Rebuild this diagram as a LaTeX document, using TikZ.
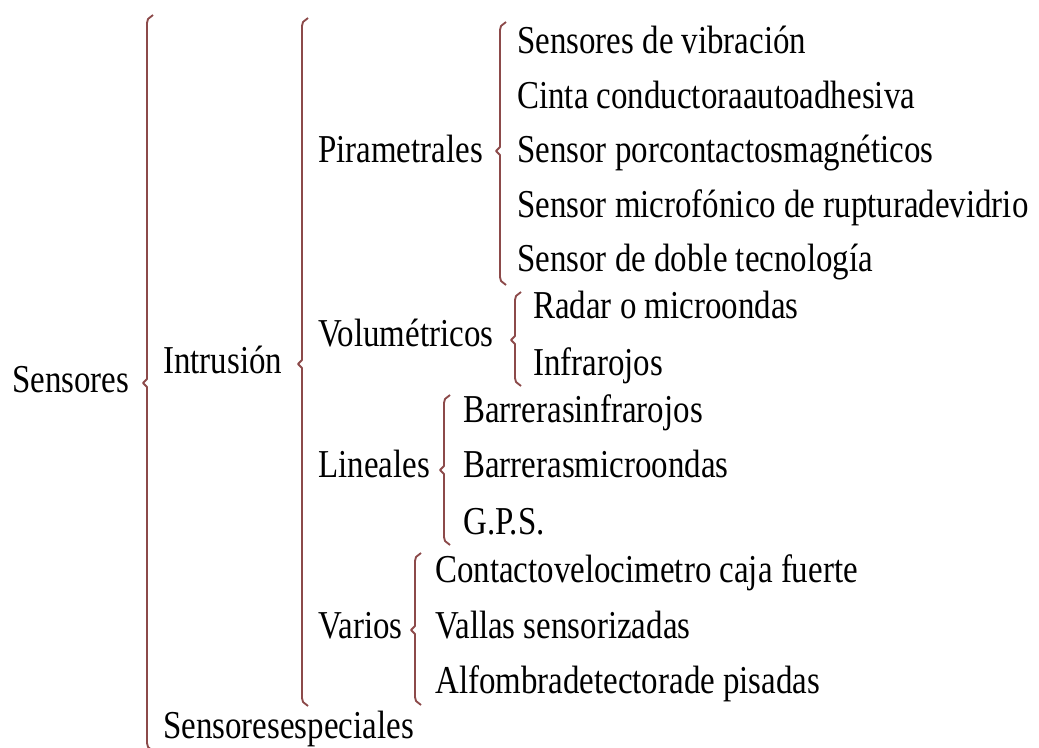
\documentclass[tikz,border=0pt]{standalone}
\usepackage{fontspec}
\setmainfont{Liberation Serif}
\usepackage{tikz}
\definecolor{llavecolor}{RGB}{140,74,74}
\tikzset{
  texto/.style={anchor=base west, inner sep=0pt, yscale=1.2, font=\fontsize{24.7pt}{28pt}\selectfont},
  llave/.style={draw=llavecolor, line width=1.4pt, line join=round}
}
% llave: x, arriba, punta, abajo
\newcommand{\llave}[4]{%
  \draw[llave] (#1+6,#2) -- (#1+1,#2+4) -- (#1,#2+8) -- (#1,#3-4) -- (#1-4,#3)
    -- (#1,#3+4) -- (#1,#4-8) -- (#1+1,#4-4) -- (#1+6,#4);}

\begin{document}
\begin{tikzpicture}[x=0.75pt,y=-0.75pt]
\useasboundingbox (0,0) rectangle (1039,748);
% primer nivel
\node[texto] (sensores) at (12,393) {Sensores};
\llave{147}{15}{383}{751}
\node[texto] (intrusion) at (163,374) {Intrusión};
\node[texto] (especiales) at (163,738) {Sensoresespeciales};
% segundo nivel
\llave{302}{18}{364}{706}
\node[texto] (piram) at (318,163) {Pirametrales};
\node[texto] (volum) at (318,347) {Volumétricos};
\node[texto] (lineal) at (318,478) {Lineales};
\node[texto] (varios) at (318,638) {Varios};
% tercer nivel
\llave{500}{22}{151}{285}
\node[texto] (p1) at (517,54) {Sensores de vibración};
\node[texto] (p2) at (517,109) {Cinta conductoraautoadhesiva};
\node[texto] (p3) at (517,163) {Sensor porcontactosmagnéticos};
\node[texto] (p4) at (517,218) {Sensor microfónico de rupturadevidrio};
\node[texto] (p5) at (517,272) {Sensor de doble tecnología};
\llave{515}{292}{340}{386}
\node[texto] (v1) at (533,319) {Radar o microondas};
\node[texto] (v2) at (533,376) {Infrarojos};
\llave{444}{395}{470}{545}
\node[texto] (l1) at (463,423) {Barrerasinfrarojos};
\node[texto] (l2) at (463,478) {Barrerasmicroondas};
\node[texto] (l3) at (463,534) {G.P.S.};
\llave{415}{553}{630}{705}
\node[texto] (r1) at (435,582) {Contactovelocimetro caja fuerte};
\node[texto] (r2) at (435,638) {Vallas sensorizadas};
\node[texto] (r3) at (435,693) {Alfombradetectorade pisadas};
\end{tikzpicture}
\end{document}
